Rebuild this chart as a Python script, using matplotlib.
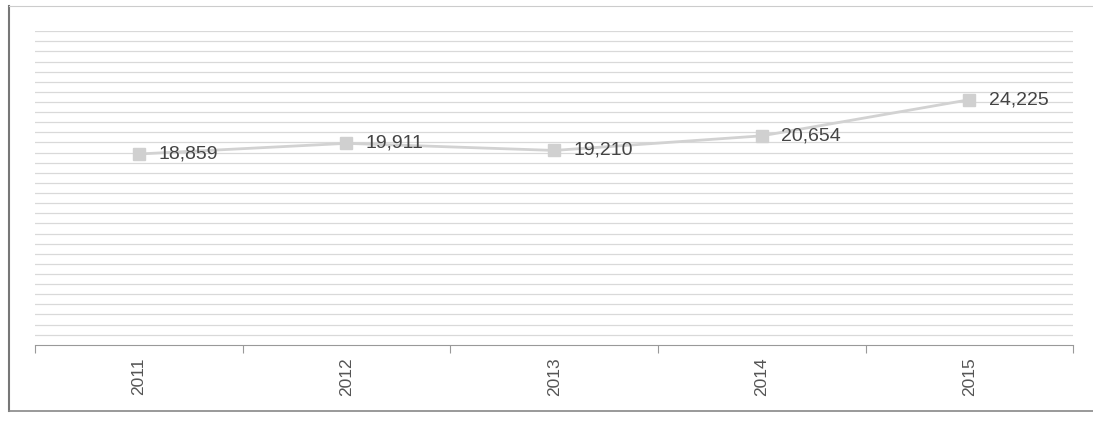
import matplotlib as mpl
mpl.use('Agg')
import matplotlib.pyplot as plt
import numpy as np

years = ['2011', '2012', '2013', '2014', '2015']
values = [18859, 19911, 19210, 20654, 24225]
labels = ['18,859', '19,911', '19,210', '20,654', '24,225']

plt.rcParams['font.family'] = ['Liberation Sans Narrow', 'Liberation Sans', 'DejaVu Sans']

fig = plt.figure(figsize=(10.93, 4.21), dpi=100)
ax = fig.add_axes([0.032, 0.181, 0.950, 0.745])

x = np.arange(len(years))
ax.plot(x, values, color='#d2d2d2', lw=2, marker='s', ms=9,
        mfc='#d0d0d0', mec='#d0d0d0', zorder=3)
for xi, v, lab in zip(x, values, labels):
    ax.annotate(lab, (xi, v), xytext=(14, 0), textcoords='offset points',
                va='center', ha='left', fontsize=14, color='#444444', zorder=4)

ax.set_xlim(-0.5, len(years) - 0.5)
ax.set_ylim(0, 31000)
ax.set_yticks(np.arange(1000, 31001, 1000))
ax.yaxis.grid(True, color='#d9d9d9', lw=0.9)
ax.tick_params(axis='y', left=False, labelleft=False)

ax.set_xticks(np.arange(-0.5, len(years)), minor=False)
ax.set_xticklabels([])
ax.set_xticks(x, minor=True)
ax.set_xticklabels(years, minor=True, rotation=90, fontsize=12.5, color='#555555')
ax.tick_params(axis='x', which='major', direction='out', length=6, color='#999999')
ax.tick_params(axis='x', which='minor', length=0, pad=9)

for s in ['top', 'right', 'left']:
    ax.spines[s].set_visible(False)
ax.spines['bottom'].set_color('#999999')

# outer frame of the scanned chart (no right edge)
fig.add_artist(plt.Line2D([0.008, 0.008], [0.024, 0.985], transform=fig.transFigure,
                          color='#777777', lw=1.5))
fig.add_artist(plt.Line2D([0.008, 1.0], [0.024, 0.024], transform=fig.transFigure,
                          color='#888888', lw=1.2))
fig.add_artist(plt.Line2D([0.008, 1.0], [0.985, 0.985], transform=fig.transFigure,
                          color='#cccccc', lw=0.8))

plt.savefig('out.png')
